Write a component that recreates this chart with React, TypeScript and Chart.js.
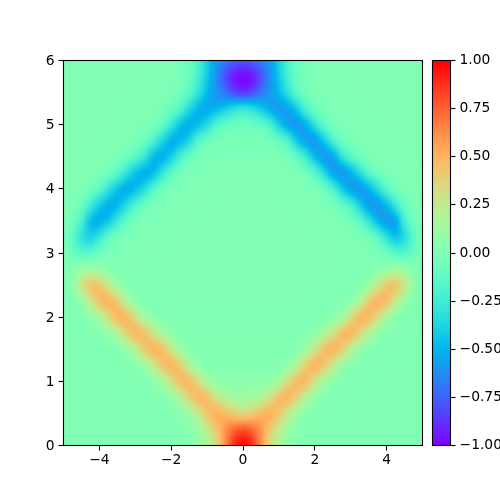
import React, { useEffect, useRef } from "react";
import { Chart, registerables } from "chart.js";

Chart.register(...registerables);

const xGrid = [-5,-4.75,-4.5,-4.25,-4,-3.75,-3.5,-3.25,-3,-2.75,-2.5,-2.25,-2,-1.75,-1.5,-1.25,-1,-0.75,-0.5,-0.25,0,0.25,0.5,0.75,1,1.25,1.5,1.75,2,2.25,2.5,2.75,3,3.25,3.5,3.75,4,4.25,4.5,4.75,5];
const yGrid = [0,0.25,0.5,0.75,1,1.25,1.5,1.75,2,2.25,2.5,2.75,3,3.25,3.5,3.75,4,4.25,4.5,4.75,5,5.25,5.5,5.75,6];

const row000 = [0,0,0,0,0, 0,0,0,0,0, 0,.01,.01,.01,.03, .08,.16,.34,.62,.9, 1, .9,.62,.34,.16,.08, .03,.01,.01,.01,0, 0,0,0,0,0, 0,0,0,0,0];
const row025 = [0,0,0,0,0, 0,0,0,0,0, 0,0,.01,.02,.04, .1,.26,.42,.6,.74, .8, .74,.6,.42,.26,.1, .04,.02,.01,0,0, 0,0,0,0,0, 0,0,0,0,0];
const row050 = [0,0,0,0,0, 0,0,0,0,0, 0,0,.01,.04,.12, .26,.44,.53,.48,.4, .34, .4,.48,.53,.44,.26, .12,.04,.01,0,0, 0,0,0,0,0, 0,0,0,0,0];
const row075 = [0,0,0,0,0, 0,0,0,0,0, .01,.02,.07,.2,.38, .51,.47,.3,.2,.13, .12, .13,.2,.3,.47,.51, .38,.2,.07,.02,.01, 0,0,0,0,0, 0,0,0,0,0];
const row100 = [0,0,0,0,0, 0,0,0,0,.01, .05,.14,.31,.48,.5, .33,.15,.06,.05,.05, .05, .05,.05,.06,.15,.33, .5,.48,.31,.14,.05, .01,0,0,0,0, 0,0,0,0,0];
const row125 = [0,0,0,0,0, 0,0,.01,.03,.1, .26,.44,.52,.42,.2, .06,.02,.02,.02,.02, .02, .02,.02,.02,.02,.06, .2,.42,.52,.44,.26, .1,.03,.01,0,0, 0,0,0,0,0];
const row150 = [0,0,0,0,0, .01,.02,.08,.22,.42, .52,.47,.29,.11,.03, .01,.01,.01,.01,.01, .01, .01,.01,.01,.01,.01, .03,.11,.29,.47,.52, .42,.22,.08,.02,.01, 0,0,0,0,0];
const row175 = [0,0,0,.01,.02, .07,.2,.38,.51,.47, .3,.16,.05,.02,.01, .01,.01,.01,.01,.01, .01, .01,.01,.01,.01,.01, .01,.02,.05,.16,.3, .47,.51,.38,.2,.07, .02,.01,0,0,0];
const row200 = [0,0,.01,.05,.15, .34,.5,.5,.33,.13, .04,.01,0,0,0, 0,0,0,0,0, 0, 0,0,0,0,0, 0,0,0,.01,.04, .13,.33,.5,.5,.34, .15,.05,.01,0,0];
const row225 = [0,.01,.09,.28,.47, .52,.42,.18,.04,.01, 0,0,0,0,0, 0,0,0,0,0, 0, 0,0,0,0,0, 0,0,0,0,0, .01,.04,.18,.42,.52, .47,.28,.09,.01,0];
const row250 = [.01,.06,.3,.46,.44, .27,.09,.02,0,0, 0,0,0,0,0, 0,0,0,0,0, 0, 0,0,0,0,0, 0,0,0,0,0, 0,0,.02,.09,.27, .44,.46,.3,.06,.01];
const row275 = [0,.03,.1,.12,.08, .03,0,0,0,0, 0,0,0,0,0, 0,0,0,0,0, 0, 0,0,0,0,0, 0,0,0,0,0, 0,0,0,0,.03, .08,.12,.1,.03,0];
const row300 = [-.01,-.09,-.15,-.14,-.07, -.03,-.01,0,0,0, 0,0,0,0,0, 0,0,0,0,0, 0, 0,0,0,0,0, 0,0,0,0,0, 0,0,0,-.01,-.03, -.07,-.16,-.17,-.1,-.01];
const row325 = [-.02,-.12,-.31,-.4,-.28, -.12,-.05,-.02,-.01,0, 0,0,0,0,0, 0,0,0,0,0, 0, 0,0,0,0,0, 0,0,0,0,0, 0,-.01,-.02,-.05,-.14, -.32,-.46,-.36,-.14,-.02];
const row350 = [0,-.05,-.2,-.48,-.52, -.44,-.26,-.11,-.04,-.01, -.01,0,0,0,0, 0,0,0,0,0, 0, 0,0,0,0,0, 0,0,0,0,-.01, -.01,-.04,-.13,-.3,-.5, -.6,-.56,-.23,-.06,0];
const row375 = [0,-.02,-.08,-.24,-.42, -.52,-.5,-.35,-.18,-.08, -.03,-.01,0,0,0, 0,0,0,0,0, 0, 0,0,0,0,0, 0,0,0,-.01,-.03, -.1,-.2,-.41,-.58,-.6, -.48,-.27,-.09,-.02,0];
const row400 = [0,0,-.01,-.05,-.13, -.3,-.46,-.53,-.49,-.36, -.17,-.07,-.02,-.01,0, 0,0,0,0,0, 0, 0,0,0,0,0, 0,-.01,-.02,-.07,-.19, -.42,-.57,-.61,-.52,-.34, -.15,-.05,-.01,0,0];
const row425 = [0,0,0,-.01,-.02, -.06,-.14,-.31,-.46,-.53, -.48,-.3,-.13,-.05,-.02, -.01,0,0,0,0, 0, 0,0,0,0,-.01, -.02,-.05,-.15,-.34,-.56, -.61,-.52,-.35,-.16,-.06, -.02,-.01,0,0,0];
const row450 = [0,0,0,0,0, -.01,-.02,-.06,-.14,-.28, -.49,-.52,-.42,-.22,-.09, -.04,-.02,-.01,-.01,-.01, -.01, -.01,-.01,-.01,-.02,-.04, -.11,-.26,-.48,-.6,-.57, -.32,-.16,-.06,-.02,-.01, 0,0,0,0,0];
const row475 = [0,0,0,0,0, 0,0,-.01,-.02,-.07, -.19,-.38,-.52,-.5,-.38, -.17,-.08,-.04,-.03,-.03, -.03, -.03,-.03,-.04,-.1,-.19, -.44,-.58,-.6,-.44,-.21, -.07,-.02,-.01,0,0, 0,0,0,0,0];
const row500 = [0,0,0,0,0, 0,0,0,-.01,-.02, -.04,-.1,-.27,-.46,-.53, -.48,-.35,-.18,-.11,-.08, -.07, -.08,-.11,-.2,-.41,-.56, -.61,-.52,-.31,-.12,-.04, -.02,-.01,0,0,0, 0,0,0,0,0];
const row525 = [0,0,0,0,0, 0,0,0,0,0, -.01,-.03,-.08,-.17,-.36, -.5,-.54,-.5,-.42,-.32, -.27, -.32,-.42,-.54,-.6,-.56, -.42,-.19,-.08,-.03,-.01, 0,0,0,0,0, 0,0,0,0,0];
const row550 = [0,0,0,0,0, 0,0,0,0,0, 0,-.01,-.02,-.05,-.13, -.3,-.48,-.6,-.7,-.82, -.88, -.82,-.7,-.6,-.48,-.3, -.13,-.05,-.02,-.01,0, 0,0,0,0,0, 0,0,0,0,0];
const row575 = [0,0,0,0,0, 0,0,0,0,0, 0,0,-.01,-.03,-.09, -.22,-.42,-.62,-.8,-.96, -1, -.96,-.8,-.62,-.42,-.22, -.09,-.03,-.01,0,0, 0,0,0,0,0, 0,0,0,0,0];
const row600 = [0,0,0,0,0, 0,0,0,0,0, 0,0,-.01,-.03,-.07, -.2,-.4,-.58,-.68,-.75, -.78, -.75,-.68,-.58,-.4,-.2, -.07,-.03,-.01,0,0, 0,0,0,0,0, 0,0,0,0,0];

const heatRows = [row000,row025,row050,row075,row100,row125,row150,row175,row200,row225,row250,row275,row300,row325,row350,row375,row400,row425,row450,row475,row500,row525,row550,row575,row600];

const xTicks = [-4,-2,0,2,4];
const yTicks = [0,1,2,3,4,5,6];
const barTicks = [-1,-0.75,-0.5,-0.25,0,0.25,0.5,0.75,1];

const FONT = { family: "'DejaVu Sans'", size: 13.89 };

function rainbow(v: number): [number, number, number] {
  const t = Math.min(1, Math.max(0, (v + 1) / 2));
  return [
    Math.round(255 * Math.min(1, Math.abs(2 * t - 0.5))),
    Math.round(255 * Math.sin(Math.PI * t)),
    Math.round(255 * Math.cos((Math.PI * t) / 2)),
  ];
}

const minus = (s: string) => s.replace("-", "\u2212");

// Mitchell filter weights: only how the grid is shaded between its cells when painted.
function mitchell(d: number): number {
  const a = Math.abs(d);
  if (a < 1) return (7 * a * a * a - 12 * a * a + 16 / 3) / 6;
  if (a < 2) return ((-7 / 3) * a * a * a + 12 * a * a - 20 * a + 32 / 3) / 6;
  return 0;
}
function weights(f: number): number[] {
  return [mitchell(f + 1), mitchell(f), mitchell(f - 1), mitchell(f - 2)];
}

const heatPlugin = {
  id: "heatImage",
  beforeDatasetsDraw(chart: any) {
    const raw = chart.data.datasets[0].data;
    const nx = xGrid.length;
    const ny = yGrid.length;
    const a = chart.chartArea;
    const sx = chart.scales.x;
    const sy = chart.scales.y;
    const px0 = Math.floor(a.left);
    const py0 = Math.floor(a.top);
    const W = Math.ceil(a.right) - px0;
    const H = Math.ceil(a.bottom) - py0;
    const off = document.createElement("canvas");
    off.width = W;
    off.height = H;
    const o = off.getContext("2d")!;
    const img = o.createImageData(W, H);
    const stepX = (xGrid[nx - 1] - xGrid[0]) / (nx - 1);
    const stepY = (yGrid[ny - 1] - yGrid[0]) / (ny - 1);
    const at = (c: number, r: number) => {
      const cc = Math.min(nx - 1, Math.max(0, c));
      const rr = Math.min(ny - 1, Math.max(0, r));
      return raw[rr * nx + cc].v;
    };
    for (let j = 0; j < H; j++) {
      const gy = (sy.getValueForPixel(py0 + j + 0.5) - yGrid[0]) / stepY;
      const r0 = Math.floor(gy);
      const wy = weights(gy - r0);
      for (let i = 0; i < W; i++) {
        const gx = (sx.getValueForPixel(px0 + i + 0.5) - xGrid[0]) / stepX;
        const c0 = Math.floor(gx);
        const wx = weights(gx - c0);
        let v = 0;
        for (let m = 0; m < 4; m++) {
          for (let n = 0; n < 4; n++) {
            v += wy[m] * wx[n] * at(c0 - 1 + n, r0 - 1 + m);
          }
        }
        const [R, G, B] = rainbow(v);
        const k = (j * W + i) * 4;
        img.data[k] = R; img.data[k + 1] = G; img.data[k + 2] = B; img.data[k + 3] = 255;
      }
    }
    o.putImageData(img, 0, 0);
    const ctx = chart.ctx;
    ctx.save();
    ctx.beginPath();
    ctx.rect(a.left, a.top, a.width, a.height);
    ctx.clip();
    ctx.drawImage(off, px0, py0);
    ctx.restore();
  },
};

const framePlugin = {
  id: "frame",
  afterDraw(chart: any) {
    const a = chart.chartArea;
    const ctx = chart.ctx;
    ctx.save();
    ctx.strokeStyle = "#000";
    ctx.lineWidth = 1.1;
    ctx.strokeRect(a.left, a.top, a.width, a.height);
    ctx.restore();
  },
};

const labelNudgePlugin = {
  id: "labelNudge",
  beforeDraw(chart: any) {
    const s = chart.scales.y;
    if (s._nudged) return;
    s.getLabelItems(chart.chartArea).forEach((it: any) => { it.options.translation[1] += 1; });
    s._nudged = true;
  },
};

export default function App() {
  const mainRef = useRef<HTMLCanvasElement>(null);
  const barRef = useRef<HTMLCanvasElement>(null);

  useEffect(() => {
    const points: { x: number; y: number; v: number }[] = [];
    heatRows.forEach((row, j) => row.forEach((v, i) => points.push({ x: xGrid[i], y: yGrid[j], v })));

    const main = new Chart(mainRef.current!, {
      type: "scatter",
      data: { datasets: [{ data: points, pointRadius: 0, pointHoverRadius: 0 }] },
      plugins: [heatPlugin, framePlugin, labelNudgePlugin],
      options: {
        animation: false,
        responsive: false,
        layout: { padding: { left: 0, top: 60.5, right: 77.5, bottom: 0 } },
        plugins: { legend: { display: false }, tooltip: { enabled: false } },
        scales: {
          x: {
            type: "linear", min: -5, max: 5,
            afterBuildTicks: (s: any) => { s.ticks = xTicks.map((value) => ({ value })); },
            afterFit: (s: any) => { s.height = 54.5; },
            border: { display: false },
            grid: { drawOnChartArea: false, drawTicks: true, tickLength: 5, tickColor: "#000", tickWidth: 1.1 },
            ticks: { color: "#000", font: FONT, padding: 2, maxRotation: 0, autoSkip: false, callback: (v: any) => minus(String(v)) },
          },
          y: {
            type: "linear", min: 0, max: 6,
            afterBuildTicks: (s: any) => { s.ticks = yTicks.map((value) => ({ value })); },
            afterFit: (s: any) => { s.width = 63.5; },
            border: { display: false },
            grid: { drawOnChartArea: false, drawTicks: true, tickLength: 5, tickColor: "#000", tickWidth: 1.1 },
            ticks: { color: "#000", font: FONT, padding: 4, autoSkip: false, callback: (v: any) => String(v) },
          },
        },
      },
    } as any);

    const bar = new Chart(barRef.current!, {
      type: "bar",
      data: {
        labels: ["colorbar"],
        datasets: [{
          data: [[-1, 1]],
          barPercentage: 1,
          categoryPercentage: 1,
          backgroundColor: (c: any) => {
            const a = c.chart.chartArea;
            if (!a) return "#000";
            const g = c.chart.ctx.createLinearGradient(0, a.bottom, 0, a.top);
            for (let s = 0; s <= 64; s++) {
              const [R, G, B] = rainbow(-1 + s / 32);
              g.addColorStop(s / 64, `rgb(${R},${G},${B})`);
            }
            return g;
          },
        }],
      },
      plugins: [framePlugin],
      options: {
        animation: false,
        responsive: false,
        layout: { padding: { left: 432.5, top: 60.5, right: 0, bottom: 54.5 } },
        plugins: { legend: { display: false }, tooltip: { enabled: false } },
        scales: {
          x: { display: false },
          y: {
            type: "linear", position: "right", min: -1, max: 1,
            afterBuildTicks: (s: any) => { s.ticks = barTicks.map((value) => ({ value })); },
            afterFit: (s: any) => { s.width = 49.5; },
            border: { display: false },
            grid: { drawOnChartArea: false, drawTicks: true, tickLength: 5, tickColor: "#000", tickWidth: 1.1 },
            ticks: { color: "#000", font: FONT, padding: 4, autoSkip: false, callback: (v: any) => minus(Number(v).toFixed(2)) },
          },
        },
      },
    } as any);

    return () => { main.destroy(); bar.destroy(); };
  }, []);

  const style: React.CSSProperties = { position: "absolute", left: 0, top: 0, width: 500, height: 500 };
  return (
    <div style={{ position: "absolute", left: 0, top: 0, width: 500, height: 500, background: "#fff" }}>
      <canvas ref={mainRef} width={500} height={500} style={style} />
      <canvas ref={barRef} width={500} height={500} style={style} />
    </div>
  );
}
